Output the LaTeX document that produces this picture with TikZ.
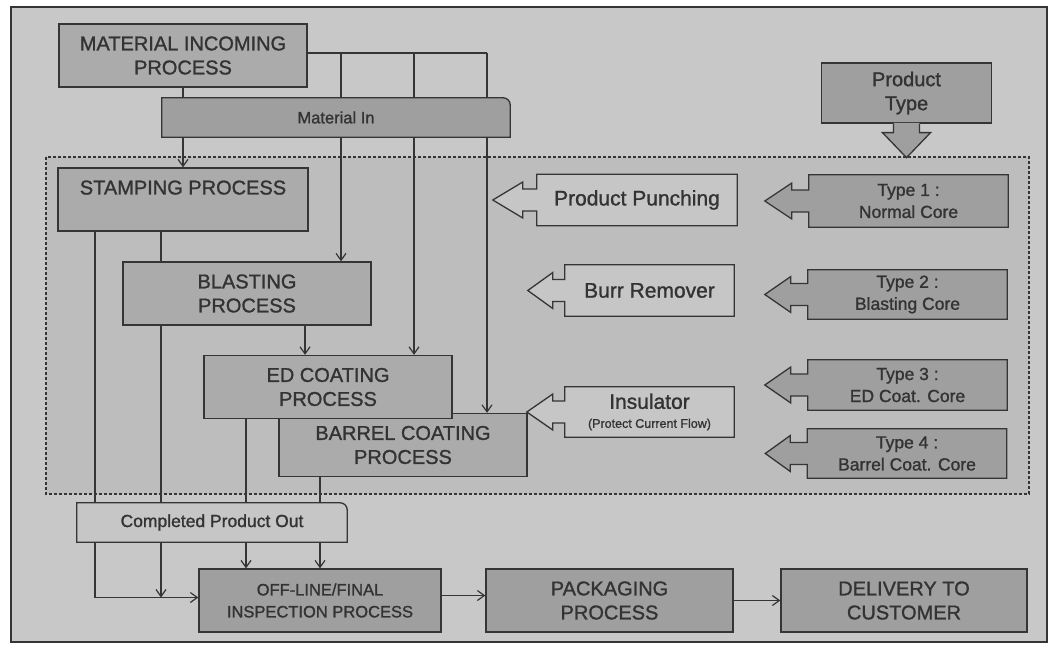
\documentclass[tikz,border=0pt]{standalone}
\usepackage{fontspec}
\setmainfont{Liberation Sans}[FakeBold=1.2,AutoFakeBold=1.2]
\usetikzlibrary{arrows.meta}
\definecolor{bordc}{HTML}{353535}
\definecolor{txtc}{HTML}{333333}
\definecolor{bgc}{HTML}{C8C8C8}
\definecolor{dashc}{HTML}{BDBDBD}
\definecolor{midc}{HTML}{ABABAB}
\definecolor{darkc}{HTML}{9F9F9F}
\definecolor{lightc}{HTML}{C6C6C6}
\pgfdeclarelayer{bg}
\pgfdeclarelayer{lines}
\pgfdeclarelayer{shapes}
\pgfsetlayers{bg,lines,shapes,main}
\newcommand\mycallout[4]{%
  \path[draw=bordc,line width=1.3pt,fill=#4,line join=miter]
    (#1.south west) -- ([yshift=-11pt]#1.west) -- ([xshift=-#2,yshift=-11pt]#1.west)
    -- ([xshift=-#2,yshift=-18pt]#1.west) -- ([xshift=-#3]#1.west)
    -- ([xshift=-#2,yshift=18pt]#1.west) -- ([xshift=-#2,yshift=11pt]#1.west)
    -- ([yshift=11pt]#1.west) -- (#1.north west) -- (#1.north east)
    -- (#1.south east) -- cycle;}
\newcommand\mytab[2]{%
  \path[draw=bordc,line width=1.3pt,fill=#2]
    (#1.south west) -- (#1.north west) -- ([xshift=-7pt]#1.north east)
    arc[start angle=90,end angle=0,radius=7pt] -- (#1.south east) -- cycle;}
\begin{document}
\begin{tikzpicture}[x=1pt,y=-1pt,
  base/.style={align=center,text=txtc,inner sep=0pt,font=\fontsize{20}{24}\selectfont\bfseries},
  midbox/.style={base,draw=bordc,line width=1.3pt,fill=midc},
  darkbox/.style={base,draw=bordc,line width=1.3pt,fill=darkc},
  typebox/.style={base,font=\fontsize{17.5}{22}\selectfont\bfseries},
  plain/.style={base},
  arr/.style={-{Straight Barb[length=7pt,width=10pt,line width=1.2pt]},line width=1.3pt,draw=bordc},
  conn/.style={line width=1.3pt,draw=bordc}]
\useasboundingbox (0,0) rectangle (1056,647);
\begin{pgfonlayer}{bg}
  \fill[white] (0,0) rectangle (1056,647);
  \draw[fill=bgc,draw=bordc,line width=1.2pt] (11,7) rectangle (1047,642);
  \draw[fill=dashc,draw=bordc,line width=1.2pt,dash pattern=on 3pt off 2pt] (46,157) rectangle (1029,494);
\end{pgfonlayer}

% main process boxes
\node[midbox,minimum width=248pt,minimum height=63pt] (mip) at (183,55.5) {MATERIAL INCOMING\\PROCESS};
\node[midbox,minimum width=250pt,minimum height=63pt] (stamp) at (183,199.5) {STAMPING PROCESS\\\mbox{}};
\node[midbox,minimum width=248pt,minimum height=63pt] (blast) at (247,293.5) {BLASTING\\PROCESS};
\node[midbox,minimum width=248pt,minimum height=63pt] (barrel) at (403,445) {BARREL COATING\\PROCESS};
\node[midbox,minimum width=248pt,minimum height=63pt] (ed) at (328,387) {ED COATING\\PROCESS};

\node[darkbox,minimum width=242pt,minimum height=63pt,font=\fontsize{16.5}{22}\selectfont\bfseries] (off) at (320,600.5) {OFF-LINE/FINAL\\INSPECTION PROCESS};
\node[darkbox,minimum width=247pt,minimum height=63pt] (pack) at (609.5,600.5) {PACKAGING\\PROCESS};
\node[darkbox,minimum width=246pt,minimum height=63pt] (deliv) at (904,600.5) {DELIVERY TO\\CUSTOMER};

\node[darkbox,minimum width=170pt,minimum height=60pt] (ptype) at (906.5,93) {Product\\Type};

% tab-shaped boxes
\node[plain,minimum width=348pt,minimum height=39pt,font=\fontsize{16.5}{20}\selectfont\bfseries] (matin) at (336,117.5) {Material In};
\node[plain,minimum width=270pt,minimum height=39pt,font=\fontsize{17.5}{20}\selectfont\bfseries] (cpo) at (212,522.5) {Completed Product Out};

% callouts
\node[plain,minimum width=200pt,minimum height=51pt,font=\fontsize{21}{24}\selectfont\bfseries] (punch) at (637,200) {Product Punching};
\node[plain,minimum width=169pt,minimum height=51pt,font=\fontsize{21}{24}\selectfont\bfseries] (burr) at (649.5,290.5) {Burr Remover};
\node[plain,minimum width=169pt,minimum height=50pt,font=\fontsize{21}{22}\selectfont\bfseries] (insul) at (649.5,412) {Insulator\\[-3pt]{\fontsize{12.5}{14}\selectfont\bfseries (Protect Current Flow)}};
\node[typebox,minimum width=199pt,minimum height=52pt] (type1) at (908.5,201) {Type 1 :\\Normal Core};
\node[typebox,minimum width=199pt,minimum height=49pt] (type2) at (907.5,294.5) {Type 2 :\\Blasting Core};
\node[typebox,minimum width=199pt,minimum height=50pt] (type3) at (907.5,385) {Type 3 :\\ED Coat. Core};
\node[typebox,minimum width=199pt,minimum height=49pt] (type4) at (907,453.5) {Type 4 :\\Barrel Coat. Core};

\begin{pgfonlayer}{shapes}
  \mytab{matin}{darkc}
  \mytab{cpo}{lightc}
  \mycallout{punch}{14pt}{44pt}{lightc}
  \mycallout{burr}{12pt}{37pt}{lightc}
  \mycallout{insul}{12pt}{38pt}{lightc}
  \mycallout{type1}{17pt}{44pt}{darkc}
  \mycallout{type2}{17pt}{43pt}{darkc}
  \mycallout{type3}{17pt}{43pt}{darkc}
  \mycallout{type4}{17pt}{42pt}{darkc}
\end{pgfonlayer}

% product type down arrow
\fill[darkc] ([xshift=-13pt,yshift=0.7pt]ptype.south) -- ([xshift=-13pt,yshift=-9pt]ptype.south)
  -- ([xshift=-24pt,yshift=-9pt]ptype.south) -- ([yshift=-34pt]ptype.south)
  -- ([xshift=24pt,yshift=-9pt]ptype.south) -- ([xshift=13pt,yshift=-9pt]ptype.south)
  -- ([xshift=13pt,yshift=0.7pt]ptype.south) -- cycle;
\draw[draw=bordc,line width=1.3pt] ([xshift=-13pt]ptype.south) -- ([xshift=-13pt,yshift=-9pt]ptype.south)
  -- ([xshift=-24pt,yshift=-9pt]ptype.south) -- ([yshift=-34pt]ptype.south)
  -- ([xshift=24pt,yshift=-9pt]ptype.south) -- ([xshift=13pt,yshift=-9pt]ptype.south)
  -- ([xshift=13pt]ptype.south);

% connectors
\coordinate (j1) at (341,53);
\coordinate (j2) at (414,53);
\coordinate (j3) at (487,53);
\coordinate (offin) at ([yshift=3pt]off.west);
\begin{pgfonlayer}{lines}
  \draw[arr] (mip.south) -- (stamp.north);
  \draw[conn] (mip.east |- j1) -- (j3);
  \draw[arr] (j1) -- (j1 |- blast.north);
  \draw[arr] (j2) -- (j2 |- ed.north);
  \draw[arr] (j3) -- (j3 |- barrel.north);
  \draw[arr] ([xshift=-23pt]ed.north |- blast.south) -- ([xshift=-23pt]ed.north);
  \draw[arr] ([xshift=-88pt]stamp.south) |- (offin);
  \draw[arr] ([xshift=-22pt]stamp.south) -- ([xshift=-22pt]stamp.south |- offin);
  \draw[arr] ([xshift=-82pt]ed.south) -- ([xshift=-82pt]ed.south |- off.north);
  \draw[arr] ([xshift=-83pt]barrel.south) -- ([xshift=-83pt]barrel.south |- off.north);
  \draw[arr] ([yshift=5pt]off.east) -- ([yshift=5pt]pack.west);
  \draw[arr] (pack.east) -- (deliv.west);
\end{pgfonlayer}
\end{tikzpicture}
\end{document}
